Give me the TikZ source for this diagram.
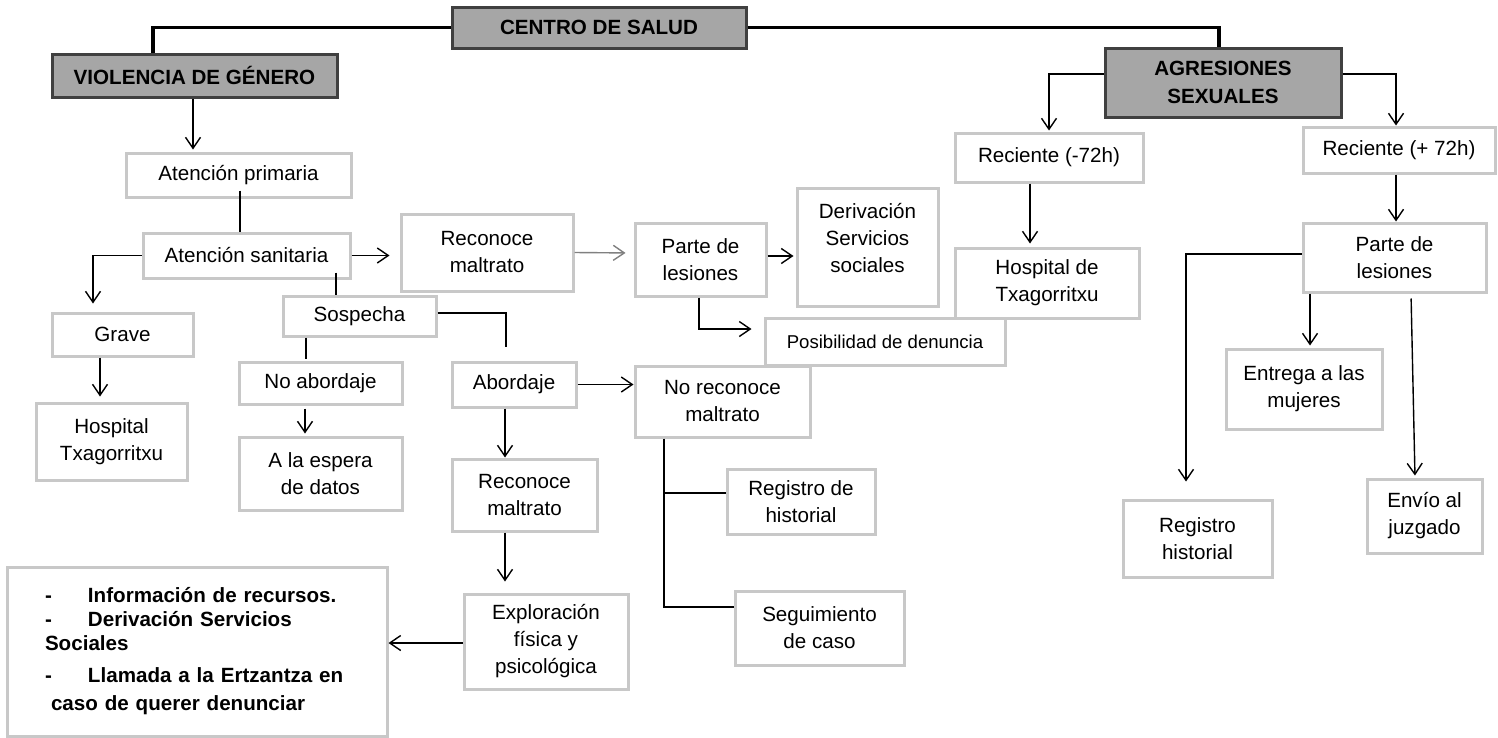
\documentclass[tikz,border=0pt]{standalone}
\usepackage{fontspec}
\setmainfont{Liberation Sans}
\usetikzlibrary{arrows.meta,positioning}
\definecolor{bordecaja}{RGB}{200,200,200}
\definecolor{fondocab}{RGB}{166,166,166}
\definecolor{bordecab}{RGB}{64,64,64}
\definecolor{flechagris}{RGB}{128,128,128}
\tikzset{tam/.style 2 args={minimum width=#1pt, minimum height=#2pt}}
\tikzset{caja/.style={draw=bordecaja, line width=3pt, fill=white, align=center, inner sep=0pt, font=\fontsize{20.6}{27}\selectfont}}
\tikzset{cabecera/.style={caja, draw=bordecab, fill=fondocab, font=\fontsize{20.6}{28}\selectfont\bfseries}}
\tikzset{linea/.style={line width=1.4pt}}
\tikzset{flecha/.style={linea, -{Straight Barb[length=11pt,width=15pt]}}}

\begin{document}
\begin{tikzpicture}[x=1pt,y=-1pt]
  \fill[white] (0,0) rectangle (1498,737);
  \useasboundingbox (0,0) rectangle (1498,737);
  \node[cabecera, tam={294}{41}] (centro) at (599,27.5) {CENTRO DE SALUD};
  \node[cabecera, tam={285}{43}] (violencia) at (194.5,75.5) {VIOLENCIA DE GÉNERO};
  \node[cabecera, tam={236}{69}] (agresiones) at (1223,82.5) {AGRESIONES\\SEXUALES};
  \node[caja, tam={225}{44}] (primaria) at (238.5,175) {Atención primaria};
  \node[caja, tam={207}{45}] (sanitaria) at (246.5,255.5) {Atención sanitaria};
  \node[caja, tam={141}{43}] (grave) at (122.5,334.5) {Grave};
  \node[caja, tam={151}{77}] (hospital1) at (111.5,441.5) {Hospital\\Txagorritxu};
  \node[caja, tam={153}{40}] (sospecha) at (359.5,316) {Sospecha};
  \node[caja, tam={163}{42}] (noabordaje) at (320.5,383) {No abordaje};
  \node[caja, tam={163}{73}] (espera) at (320.5,473.5) {A la espera\\de datos};
  \node[caja, tam={124}{45}] (abordaje) at (514,384.5) {Abordaje};
  \node[caja, tam={172}{77}] (reconoce1) at (487,252.5) {Reconoce\\maltrato};
  \node[caja, tam={145}{72}] (reconoce2) at (524.5,495) {Reconoce\\maltrato};
  \node[caja, tam={164}{95}] (exploracion) at (546,641.5) {Exploración\\física y\\psicológica};
  \node[caja, tam={131}{73}] (parte1) at (700.5,259.5) {Parte de\\lesiones};
  \node[caja, tam={141}{118}] (derivacion) at (867.5,247) {Derivación\\Servicios\\sociales\\[-8pt]\mbox{}};
  \node[caja, tam={175}{71}] (noreconoce) at (722.5,401.5) {No reconoce\\maltrato};
  \node[caja, tam={148}{65}] (registro1) at (801,501.5) {Registro de\\historial};
  \node[caja, tam={169}{74}] (seguimiento) at (819.5,628) {Seguimiento\\de caso};
  \node[caja, tam={188}{49}] (reciente1) at (1049,157.5) {Reciente (-72h)};
  \node[caja, tam={184}{70}] (hospital2) at (1047,283) {Hospital de\\Txagorritxu};
  \node[caja, tam={240}{47}, font=\fontsize{18.6}{22}\selectfont] (denuncia) at (885,341.5) {Posibilidad de denuncia};
  \node[caja, tam={192}{46}] (reciente2) at (1399,150) {Reciente (+ 72h)};
  \node[caja, tam={183}{69}] (parte2) at (1394.5,257.5) {Parte de\\lesiones};
  \node[caja, tam={156}{80}] (entrega) at (1304,389) {Entrega a las\\mujeres};
  \node[caja, tam={149}{77}] (registro2) at (1197.5,538.5) {Registro\\historial};
  \node[caja, tam={115}{74}] (envio) at (1424.5,516) {Envío al\\juzgado};
  \node[caja, tam={380}{169}, text width=304pt, align=left, font=\fontsize{20.6}{24}\selectfont\bfseries] (recursos) at (197,651.5)
    {\makebox[43pt][l]{-}Información de recursos.\\
     \makebox[43pt][l]{-}Derivación Servicios\\
     Sociales\\[8pt]
     \makebox[43pt][l]{-}Llamada a la Ertzantza en\\[4pt]
     \hspace*{6pt}caso de querer denunciar\par\vspace*{27pt}};

  \draw[line width=3.5pt] ([xshift=-41.5pt]violencia.north) |- (centro.west);
  \draw[line width=3.5pt] (centro.east) -| ([xshift=-4pt]agresiones.north);
  \draw[flecha, shorten >=2pt] ([xshift=-1.5pt]violencia.south) -- ([xshift=-45.5pt]primaria.north);
  \draw[linea] ([xshift=1.5pt,yshift=8pt]primaria.south) -- ([xshift=-6.5pt]sanitaria.north);
  \draw[flecha, shorten >=10pt] (sanitaria.east) -- ([yshift=-3pt]reconoce1.west);
  \draw[flecha, shorten >=8pt] (sanitaria.west) -| ([xshift=-29.5pt]grave.north);
  \draw[flecha, shorten >=5pt] ([xshift=-22.5pt]grave.south) -- ([xshift=-11.5pt]hospital1.north);
  \draw[linea] ([xshift=89.5pt,yshift=7pt]sanitaria.south) -- ([xshift=-23.5pt]sospecha.north);
  \draw[linea, shorten >=2pt] ([xshift=-53.5pt]sospecha.south) -- ([xshift=-14.5pt]noabordaje.north);
  \draw[linea, shorten >=14pt] ([yshift=3pt]sospecha.east) -| ([xshift=-8pt]abordaje.north);
  \draw[flecha, shorten <=3pt, shorten >=2pt] ([xshift=-15.5pt]noabordaje.south) -- ([xshift=-15.5pt]espera.north);
  \draw[flecha] (abordaje.east) -- ([yshift=17pt]noreconoce.west);
  \draw[flecha] ([xshift=-9pt]abordaje.south) -- ([xshift=-19.5pt]reconoce2.north);
  \draw[flecha, shorten >=11pt] ([xshift=-19.5pt]reconoce2.south) -- ([xshift=-41pt]exploracion.north);
  \draw[flecha] ([yshift=-1.5pt]exploracion.west) -- ([yshift=8.5pt]recursos.east);
  \draw[flecha, draw=flechagris, shorten >=8pt] (reconoce1.east) -- ([yshift=6.5pt]parte1.west);
  \draw[flecha, shorten >=2pt] ([yshift=3.5pt]parte1.east) -- ([yshift=-9pt]derivacion.west);
  \draw[flecha, shorten >=12pt] ([xshift=-1.5pt]parte1.south) |- ([yshift=12.5pt]denuncia.west);
  \coordinate (ramal) at ([xshift=-58.5pt]noreconoce.south);
  \draw[linea] (ramal) |- ([yshift=21pt]seguimiento.west);
  \draw[linea] ([yshift=8.5pt]registro1.west) -| (ramal);
  \draw[flecha, shorten >=1pt] ([yshift=8.5pt]agresiones.west) -| (reciente1.north);
  \draw[flecha] ([yshift=8.5pt]agresiones.east) -| ([xshift=-3pt]reciente2.north);
  \draw[flecha, shorten >=3pt] ([xshift=-19pt]reciente1.south) -- ([xshift=-17pt]hospital2.north);
  \draw[flecha] ([xshift=-3pt]reciente2.south) -- ([xshift=1.5pt]parte2.north);
  \draw[flecha, shorten >=17pt] ([yshift=3.5pt]parte2.west) -| ([xshift=-11.5pt]registro2.north);
  \draw[flecha, shorten >=2pt] ([xshift=-84.5pt]parte2.south) -- ([xshift=6pt]entrega.north);
  \draw[flecha, shorten <=5pt, shorten >=2pt] ([xshift=16.5pt]parte2.south) -- ([xshift=-9.5pt]envio.north);
\end{tikzpicture}
\end{document}
